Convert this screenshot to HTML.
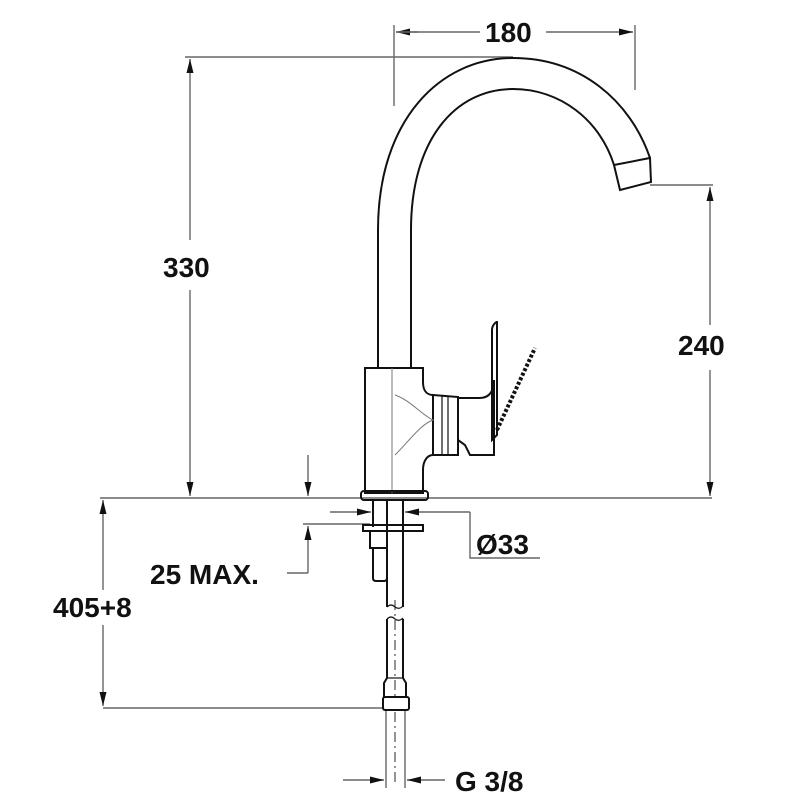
<!DOCTYPE html>
<html><head><style>
html,body{margin:0;padding:0;background:#fff;}
svg{display:block}
text{font-family:"Liberation Sans",sans-serif;font-weight:bold;font-size:28px;fill:#111}
</style></head><body>
<svg width="800" height="800" viewBox="0 0 800 800" xmlns="http://www.w3.org/2000/svg">
<defs>
<marker id="a" viewBox="0 0 14 7" refX="14" refY="3.5" markerWidth="14" markerHeight="7" orient="auto" markerUnits="userSpaceOnUse"><path d="M0,0 L14,3.5 L0,7 z" fill="#111"/></marker>
</defs>
<g stroke="#666" stroke-width="1.4" fill="none">
<line x1="100" y1="498" x2="712" y2="498"/>
<line x1="394" y1="25" x2="394" y2="106"/>
<line x1="635" y1="25" x2="635" y2="90"/>
<line x1="418" y1="32" x2="396" y2="32" marker-end="url(#a)"/>
<line x1="546" y1="32" x2="633" y2="32" marker-end="url(#a)"/>
<line x1="396" y1="32" x2="480" y2="32"/>
<line x1="185" y1="57" x2="513" y2="57"/>
<line x1="190" y1="240" x2="190" y2="59" marker-end="url(#a)"/>
<line x1="190" y1="290" x2="190" y2="496" marker-end="url(#a)"/>
<line x1="650" y1="185" x2="713" y2="185"/>
<line x1="710" y1="325" x2="710" y2="187" marker-end="url(#a)"/>
<line x1="710" y1="370" x2="710" y2="496" marker-end="url(#a)"/>
<line x1="308" y1="455" x2="308" y2="496" marker-end="url(#a)"/>
<line x1="303" y1="524" x2="370" y2="524"/>
<line x1="308" y1="573" x2="308" y2="526" marker-end="url(#a)"/>
<line x1="287" y1="573" x2="308" y2="573"/>
<line x1="330" y1="512" x2="371" y2="512" marker-end="url(#a)"/>
<line x1="470" y1="512" x2="405" y2="512" marker-end="url(#a)"/>
<polyline points="470,512 470,558 540,558"/>
<line x1="103" y1="708" x2="383" y2="708"/>
<line x1="103" y1="590" x2="103" y2="500" marker-end="url(#a)"/>
<line x1="103" y1="625" x2="103" y2="706" marker-end="url(#a)"/>
<line x1="343" y1="780" x2="384" y2="780" marker-end="url(#a)"/>
<line x1="445" y1="780" x2="407" y2="780" marker-end="url(#a)"/>
<line x1="386" y1="710" x2="386" y2="788"/>
<line x1="405" y1="710" x2="405" y2="788"/>
<line x1="395" y1="712" x2="395" y2="785" stroke-dasharray="10,4,2,4"/>
<line x1="395" y1="600" x2="395" y2="700" stroke-dasharray="10,4,2,4"/>
</g>
<g stroke="#111" stroke-width="2" fill="none">
<path d="M378,367 L378,230 C378,120 440,58 513,58 C580,58 630,100 650,158"/>
<path d="M411,367 L411,230 C411,140 455,89 513,89 C560,89 600,120 614,165"/>
<path d="M614,165 L650,158 L651,182 L620,190 Z"/>
<path d="M365,368 L423,368 L423,382 C423,392 428,395 433,395 L433,455 C428,455 423,460 423,470 L423,493 L365,493 Z"/>
<path d="M433,395 L458,397 L458,455 L433,455 Z"/>
<line x1="442" y1="396" x2="442" y2="455" stroke-width="1.2"/>
<line x1="448" y1="396" x2="448" y2="455" stroke-width="1.2"/>
<path d="M458,398 L480,398 C490,398 494,390 494,380 L494,455 L470,455 L465,445 L458,440"/>
<path d="M492,440 L492,330 C492,325 496,322 497,322 L497,435 Z"/>
<path d="M497,430 L535,348" stroke-width="4" stroke-dasharray="3,2"/>
<path d="M392,368 L392,493" stroke-width="1" stroke="#777"/>
<path d="M395,395 C410,400 422,415 433,420 C420,425 410,440 395,455" stroke-width="1" stroke="#777"/>
<rect x="361" y="491" width="67" height="9" rx="3"/>
<rect x="363" y="525" width="60" height="6"/>
<path d="M373,500 L373,527 M387,500 L387,527"/>
<rect x="370" y="531" width="17" height="17"/>
<path d="M373,548 L373,578 Q373,581 376,581 L384,581 Q387,581 387,578 L387,548"/>
<path d="M387,500 L387,607 M403,500 L403,607"/>
<path d="M387,607 Q391,603 395,607 Q399,610 403,606" stroke-width="1.2"/>
<path d="M387,619 Q391,615 395,619 Q399,622 403,618" stroke-width="1.2"/>
<path d="M387,619 L387,678 L384,683 L384,697 M403,619 L403,678 L406,683 L406,697"/>
<line x1="387" y1="678" x2="403" y2="678" stroke-width="1.2"/>
<rect x="383" y="697" width="26" height="13" rx="2"/>
</g>
<text x="485" y="42">180</text>
<text x="163" y="277">330</text>
<text x="678" y="355">240</text>
<text x="476" y="554">Ø33</text>
<text x="150" y="584">25 MAX.</text>
<text x="53" y="617">405+8</text>
<text x="455" y="791">G 3/8</text>
</svg>
</body></html>
